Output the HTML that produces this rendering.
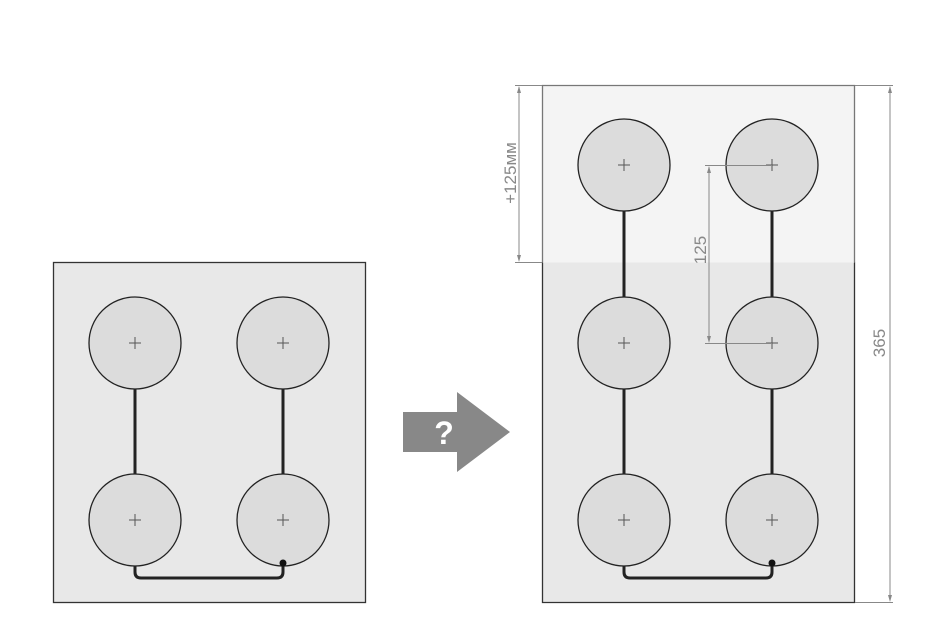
<!DOCTYPE html>
<html><head><meta charset="utf-8"><style>body{margin:0;background:#fff}</style></head><body>
<svg width="943" height="631" xmlns="http://www.w3.org/2000/svg" font-family="Liberation Sans, sans-serif">
<rect x="53.5" y="262.5" width="312" height="340" fill="#e8e8e8" stroke="#333" stroke-width="1.3"/>
<rect x="542.5" y="262.5" width="312" height="340" fill="#e8e8e8" stroke="none"/>
<path d="M542.5 262 V602.5 H854.5 V262" fill="none" stroke="#333" stroke-width="1.3"/>
<rect x="542.5" y="85.5" width="312" height="177" fill="#f4f4f4" stroke="none"/>
<path d="M542.5 262 V85.5 H854.5 V262" fill="none" stroke="#777" stroke-width="1.3"/>
<g stroke="#222" stroke-width="3" fill="none">
<line x1="135" y1="389" x2="135" y2="474"/><line x1="283" y1="389" x2="283" y2="474"/>
<path d="M135 566 V572 Q135 578 141 578 H277 Q283 578 283 572 V563"/>
<line x1="624" y1="211" x2="624" y2="297"/><line x1="772" y1="211" x2="772" y2="297"/>
<line x1="624" y1="389" x2="624" y2="474"/><line x1="772" y1="389" x2="772" y2="474"/>
<path d="M624 566 V572 Q624 578 630 578 H766 Q772 578 772 572 V563"/>
</g>
<g fill="#dcdcdc" stroke="#222" stroke-width="1.3">
<circle cx="135" cy="343" r="46"/><circle cx="283" cy="343" r="46"/>
<circle cx="135" cy="520" r="46"/><circle cx="283" cy="520" r="46"/>
<circle cx="624" cy="165" r="46"/><circle cx="772" cy="165" r="46"/>
<circle cx="624" cy="343" r="46"/><circle cx="772" cy="343" r="46"/>
<circle cx="624" cy="520" r="46"/><circle cx="772" cy="520" r="46"/>
</g>
<circle cx="283" cy="563" r="3.5" fill="#111"/><circle cx="772" cy="563" r="3.5" fill="#111"/>
<g stroke="#555" stroke-width="1">
<path d="M129 343h12M135 337v12M277 343h12M283 337v12M129 520h12M135 514v12M277 520h12M283 514v12"/>
<path d="M618 165h12M624 159v12M766 165h12M772 159v12M618 343h12M624 337v12M766 343h12M772 337v12M618 520h12M624 514v12M766 520h12M772 514v12"/>
</g>
<g stroke="#888" stroke-width="1" fill="none">
<path d="M515 85.5H542M515 262.5H542M519 87V260"/>
<path d="M705 165.5H772M705 343.5H772M709 167V341"/>
<path d="M855 85.5H893M855 602.5H893M890 87V600"/>
</g>
<g fill="#888">
<path d="M519 86l-2 7h4z M519 262l-2-7h4z M709 166l-2 7h4z M709 343l-2-7h4z M890 86l-2 7h4z M890 602l-2-7h4z"/>
</g>
<g fill="#888" font-size="17">
<text transform="translate(516,173) rotate(-90)" text-anchor="middle">+125мм</text>
<text transform="translate(706,250) rotate(-90)" text-anchor="middle">125</text>
<text transform="translate(885,343) rotate(-90)" text-anchor="middle">365</text>
</g>
<path d="M403 412H457V392L510 432L457 472V452H403Z" fill="#888"/>
<text x="444" y="444" font-size="32" font-weight="bold" fill="#fff" text-anchor="middle">?</text>
</svg>
</body></html>
